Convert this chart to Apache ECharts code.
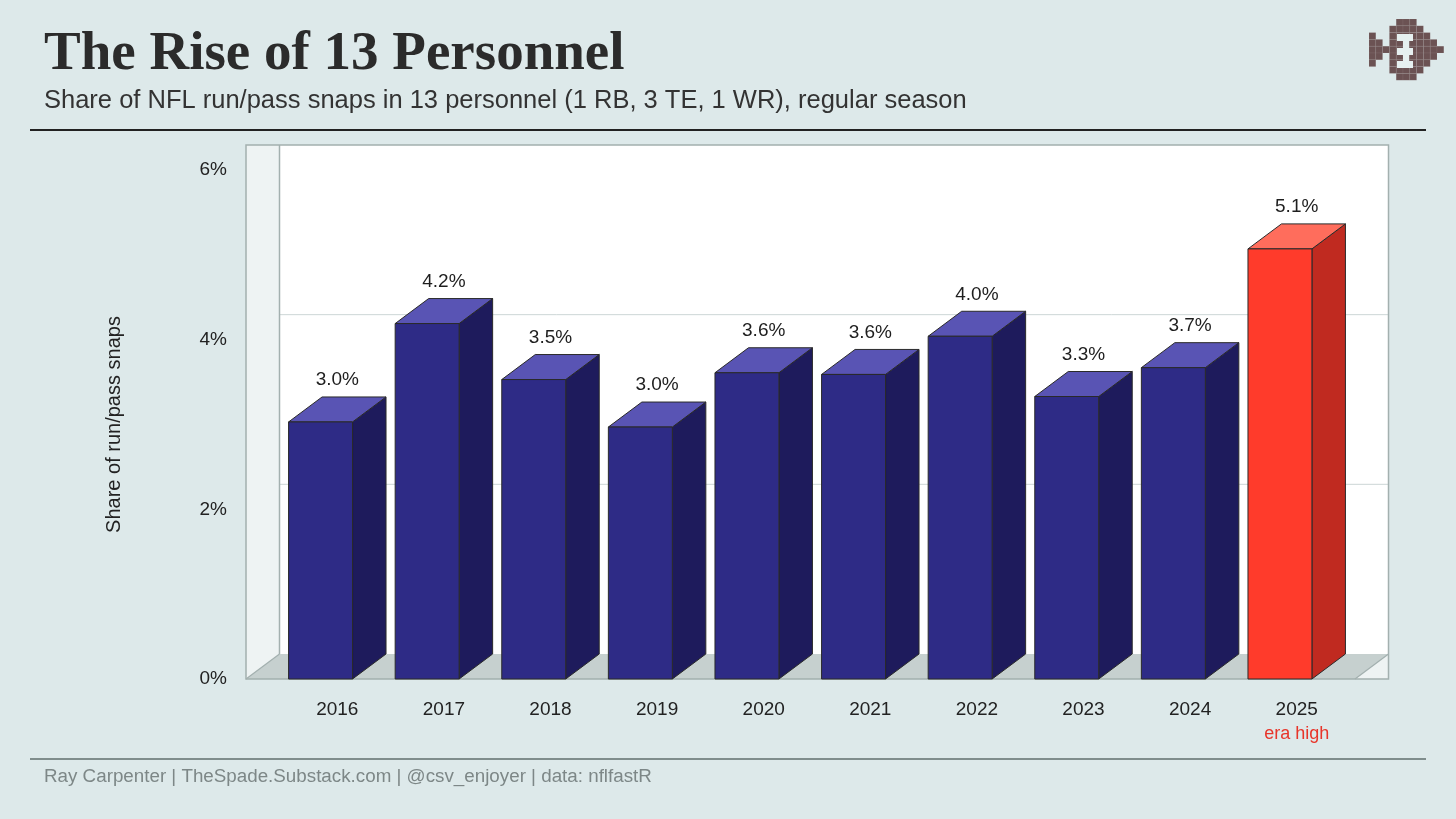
<!DOCTYPE html>
<html>
<head>
<meta charset="utf-8">
<script src="https://cdn.jsdelivr.net/npm/echarts@6/dist/echarts.min.js"></script>
<style>
html,body{margin:0;padding:0;background:#dde9ea;}
#chart{width:1456px;height:819px;}
</style>
</head>
<body>
<div id="chart"></div>
<script>
// ---- data ----
const CATEGORIES = ['2016','2017','2018','2019','2020','2021','2022','2023','2024','2025'];
const SHARE = [3.03, 4.19, 3.53, 2.97, 3.61, 3.59, 4.04, 3.33, 3.67, 5.07];
const Y_TICKS = [0, 2, 4, 6];
const HIGHLIGHT_CATEGORY = '2025';
const HIGHLIGHT_NOTE = 'era high';

// ---- style constants ----
const DX = 33.5, DY = 25;
const FONT = '"Liberation Sans", Arial, Helvetica, sans-serif';
const BLUE = {front:'#2e2b86', top:'#5954b4', side:'#1e1b5c'};
const RED = {front:'#ff3b2b', top:'#ff6d5c', side:'#c02a20'};
const FRAME = '#a3b0af';

const chart = echarts.init(document.getElementById('chart'), null, {renderer:'canvas'});

function frameItem(params, api) {
  const cs = params.coordSys;
  const base = api.coord([0, Y_TICKS[0]])[1];
  const topY = api.coord([0, Y_TICKS[Y_TICKS.length - 1]])[1] - DY;
  const fl = cs.x - 38, fr = cs.x + cs.width + 5;
  const bl = fl + DX, br = fr + DX, bb = base - DY;
  const children = [
    {type:'rect', shape:{x:fl, y:topY, width:br - fl, height:base - topY}, style:{fill:'#eef3f3', stroke:null}},
    {type:'rect', shape:{x:bl, y:topY, width:br - bl, height:bb - topY}, style:{fill:'#ffffff'}},
    {type:'polygon', shape:{points:[[fl, base],[fr, base],[br, bb],[bl, bb]]}, style:{fill:'#c6d0cf'}}
  ];
  Y_TICKS.slice(1, -1).forEach(v => {
    const y = api.coord([0, v])[1] - DY;
    children.push({type:'line', shape:{x1:bl, y1:y, x2:br, y2:y}, style:{stroke:'#cdd6d6', lineWidth:1}});
  });
  children.push(
    {type:'line', shape:{x1:bl, y1:topY, x2:bl, y2:bb}, style:{stroke:FRAME, lineWidth:1.5}},
    {type:'line', shape:{x1:fl, y1:base, x2:bl, y2:bb}, style:{stroke:FRAME, lineWidth:1.2}},
    {type:'line', shape:{x1:fr, y1:base, x2:br, y2:bb}, style:{stroke:FRAME, lineWidth:1.2}},
    {type:'rect', shape:{x:fl, y:topY, width:br - fl, height:base - topY}, style:{fill:null, stroke:FRAME, lineWidth:1.5}}
  );
  return {type:'group', children};
}

function barItem(params, api) {
  const idx = api.value(0), val = api.value(1);
  const top = api.coord([idx, val]);
  const base = api.coord([idx, 0])[1];
  const band = api.size([1, 0])[0];
  const w = band * 0.6;
  const cx = top[0];
  const cy = top[1];
  const fl = cx - DX / 2 - w / 2;
  const c = CATEGORIES[idx] === HIGHLIGHT_CATEGORY ? RED : BLUE;
  const stroke = '#2a2a2a';
  return {type:'group', children:[
    {type:'polygon', shape:{points:[[fl + w, cy],[fl + w + DX, cy - DY],[fl + w + DX, base - DY],[fl + w, base]]},
      style:{fill:c.side, stroke, lineWidth:1}},
    {type:'polygon', shape:{points:[[fl, cy],[fl + w, cy],[fl + w + DX, cy - DY],[fl + DX, cy - DY]]},
      style:{fill:c.top, stroke, lineWidth:1}},
    {type:'rect', shape:{x:fl, y:cy, width:w, height:base - cy},
      style:{fill:c.front, stroke, lineWidth:1}},
    {type:'text', x:cx, y:cy - DY - 17,
      style:{text:val.toFixed(1) + '%', fill:'#1e1e1e', fontSize:19, fontFamily:FONT, align:'center', verticalAlign:'middle'}}
  ]};
}

// logo (decorative pixel art)
const LOGO = [
  '....XXX....',
  '...XXXXX...',
  'X..XXXXXX..',
  'XX.XXXXXXX.',
  'XXXXXXXXXXX',
  'XX.XXXXXXX.',
  'X..XXXXXX..',
  '...XXXXX...',
  '....XXX....'
];
const CELL = 6.8;
const logoEls = [];
LOGO.forEach((row, r) => row.split('').forEach((ch, cI) => {
  if (ch === 'X') logoEls.push({type:'rect', shape:{x:cI * CELL, y:r * CELL, width:CELL, height:CELL},
    style:{fill:'#6b5253', stroke:'rgba(255,255,255,0.10)', lineWidth:0.5}});
}));
[[28,15,16,7],[34,22,6,7],[28,29,16,7],[34,36,6,6],[28,42,16,7]].forEach(b => logoEls.push(
  {type:'rect', shape:{x:b[0], y:b[1], width:b[2], height:b[3]}, style:{fill:'#e6f0f0'}}));

const option = {
  backgroundColor:'#dde9ea',
  animation:false,
  grid:{left:284, right:106, top:170, bottom:140},
  xAxis:{
    type:'category', data:CATEGORIES,
    axisLine:{show:false}, axisTick:{show:false},
    axisLabel:{
      interval:0, margin:18, color:'#222', fontSize:19, fontFamily:FONT, lineHeight:25,
      formatter:v => v === HIGHLIGHT_CATEGORY ? '{y|' + v + '}\n{h|' + HIGHLIGHT_NOTE + '}' : v,
      rich:{
        y:{color:'#222', fontSize:19, fontFamily:FONT, lineHeight:25},
        h:{color:'#e8352a', fontSize:18, fontFamily:FONT, lineHeight:25}
      }
    }
  },
  yAxis:{
    type:'value', min:Y_TICKS[0], max:Y_TICKS[Y_TICKS.length - 1], interval:2,
    axisLine:{show:false}, axisTick:{show:false}, splitLine:{show:false},
    axisLabel:{formatter:'{value}%', margin:57, color:'#222', fontSize:19, fontFamily:FONT},
    name:'Share of run/pass snaps', nameLocation:'middle', nameGap:160,
    nameTextStyle:{color:'#222', fontSize:20, fontFamily:FONT}
  },
  series:[
    {type:'custom', name:'frame', renderItem:frameItem, data:[[0, 0]], z:1, silent:true},
    {type:'custom', name:'share', renderItem:barItem,
      data:SHARE.map((v, i) => [i, v]), z:2, encode:{x:0, y:1}}
  ],
  graphic:[
    {type:'text', left:44, top:27, style:{text:'The Rise of 13 Personnel', fill:'#2b2b2b',
      font:'bold 55px "Liberation Serif", "Times New Roman", serif'}},
    {type:'text', left:44, top:88, style:{text:'Share of NFL run/pass snaps in 13 personnel (1 RB, 3 TE, 1 WR), regular season',
      fill:'#333', font:'25.5px ' + FONT}},
    {type:'rect', shape:{x:30, y:129, width:1396, height:2}, style:{fill:'#222'}},
    {type:'rect', shape:{x:30, y:758, width:1396, height:2}, style:{fill:'#7f8d8c'}},
    {type:'text', left:44, top:767, style:{text:'Ray Carpenter | TheSpade.Substack.com | @csv_enjoyer | data: nflfastR',
      fill:'#7d8787', font:'18.8px ' + FONT}},
    {type:'group', x:1369, y:19, children:logoEls}
  ]
};
chart.setOption(option);
</script>
</body>
</html>
